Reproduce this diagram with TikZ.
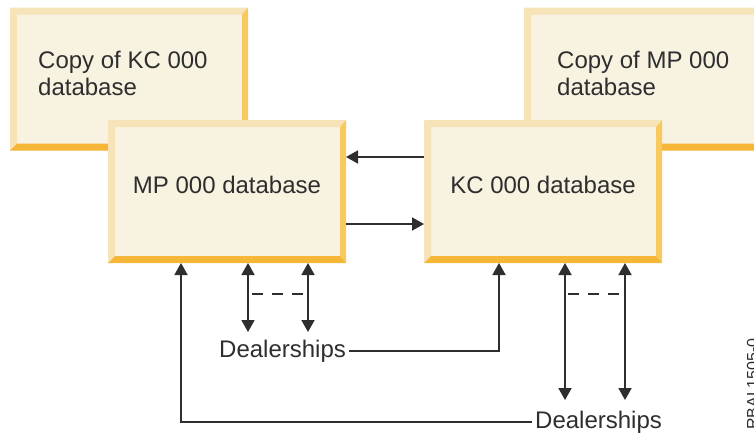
\documentclass[tikz,border=0pt]{standalone}
\usepackage{fontspec}
\setmainfont{Liberation Sans}
\usetikzlibrary{positioning, arrows.meta}

\definecolor{dbface}{HTML}{F8F2E1}
\definecolor{dbtop}{HTML}{F6E4B8}
\definecolor{dbright}{HTML}{F7C95E}
\definecolor{dbbottom}{HTML}{F6B739}
\definecolor{ink}{HTML}{2E2E2E}

\begin{document}
\begin{tikzpicture}[
        x=1pt, y=-1pt,
        >={Triangle[length=12pt, width=13pt]},
        dbbox/.style={rectangle, fill=dbface, minimum width=238pt, minimum height=143pt,
            inner sep=0pt, outer sep=0pt, text=ink, font=\fontsize{24}{25}\selectfont, text depth=14pt,
            path picture={
                \fill[dbtop] (path picture bounding box.north west) -- (path picture bounding box.north east)
                    -- ++(-6,7) -- ([shift={(7,7)}]path picture bounding box.north west) -- cycle;
                \fill[dbtop] (path picture bounding box.north west) -- (path picture bounding box.south west)
                    -- ++(7,-7) -- ([shift={(7,7)}]path picture bounding box.north west) -- cycle;
                \fill[dbright] (path picture bounding box.north east) -- (path picture bounding box.south east)
                    -- ++(-6,-7) -- ([shift={(-6,7)}]path picture bounding box.north east) -- cycle;
                \fill[dbbottom] (path picture bounding box.south west) -- (path picture bounding box.south east)
                    -- ++(-6,-7) -- ([shift={(7,-7)}]path picture bounding box.south west) -- cycle;
            }},
        copytext/.style={anchor=north west, inner sep=0pt, align=left, text=ink, font=\fontsize{24}{27}\selectfont},
        dealer/.style={anchor=base west, inner xsep=3pt, inner ysep=0pt, text=ink, font=\fontsize{24}{25}\selectfont},
        figid/.style={rotate=90, anchor=base west, inner sep=0pt, text=ink, font=\fontsize{16}{18}\selectfont},
        conn/.style={draw=ink, line width=1.8pt},
        gap/.style={conn, dash pattern=on 11pt off 9pt}
    ]

    \path[use as bounding box, clip] (0,0) rectangle (754,432);

    % Boxes
    \node[dbbox] (kccopy) at (129,79) {};
    \node[dbbox] (mpcopy) at (643,79) {};
    \node[copytext] (kccopytext) at (38,50.5) {Copy of KC 000\\database};
    \node[copytext] (mpcopytext) at (557,50.5) {Copy of MP 000\\database};

    \node[dbbox] (mpdb) at (227,191.5) {MP 000 database};
    \node[dbbox, right=78pt of mpdb] (kcdb) {KC 000 database};

    \node[dealer] (dealersmp) at (216,357) {Dealerships};
    \node[dealer] (dealerskc) at (532,428) {Dealerships};
    \node[figid] (figid) at (758,430) {RBAL1505-0};

    \coordinate (mpfoot) at (0,332);
    \coordinate (kcfoot) at (0,400);

    % Connections
    \draw[conn, ->] ([yshift=34.5pt]kcdb.west) -- ([yshift=34.5pt]mpdb.east);
    \draw[conn, ->] ([yshift=-32.5pt]mpdb.east) -- ([yshift=-32.5pt]kcdb.west);

    \foreach \dx in {21,81}
        \draw[conn, <->] ([xshift=\dx pt]mpdb.south) -- ([xshift=\dx pt]mpdb.south |- mpfoot);
    \foreach \dx in {22,82}
        \draw[conn, <->] ([xshift=\dx pt]kcdb.south) -- ([xshift=\dx pt]kcdb.south |- kcfoot);
    \draw[gap] ([xshift=25pt, yshift=-31pt]mpdb.south) -- ([xshift=77pt, yshift=-31pt]mpdb.south);
    \draw[gap] ([xshift=25pt, yshift=-31pt]kcdb.south) -- ([xshift=77pt, yshift=-31pt]kcdb.south);

    \draw[conn, ->] (dealersmp.east) -| ([xshift=-44pt]kcdb.south);
    \draw[conn, ->] (dealerskc.west) -| ([xshift=-46pt]mpdb.south);

\end{tikzpicture}
\end{document}
